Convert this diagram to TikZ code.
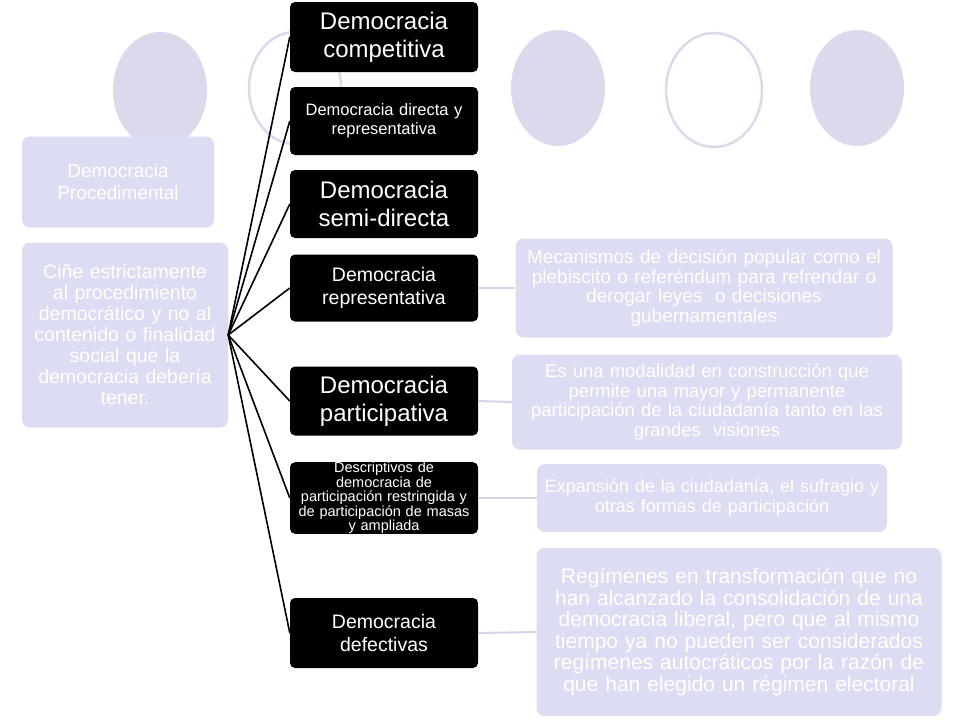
\documentclass[tikz,border=0pt]{standalone}
\usepackage{fontspec}
\setmainfont{Liberation Sans}
\newcommand{\fs}[2]{\fontsize{#1}{#2}\selectfont\hyphenpenalty=10000 }
\begin{document}
\begin{tikzpicture}[x=1pt,y=-1pt,
  lav/.style={fill=lavfill,draw=none,rounded corners=8pt,text=white,align=center,inner sep=0pt},
  blk/.style={fill=black,draw=none,rounded corners=5pt,text=white,align=center,inner sep=0pt,minimum width=188pt,text width=188pt},
  fan/.style={draw=black,line width=1.6pt},
  lnk/.style={draw=lavline,line width=2pt},
  circf/.style={fill=lavcirc,draw=none},
  circo/.style={draw=lavcirc,line width=2.5pt,fill=white}]
\definecolor{lavfill}{HTML}{DCDCF2}
\definecolor{lavcirc}{HTML}{DADAEC}
\definecolor{lavline}{HTML}{D4D4EC}
\useasboundingbox[fill=white] (0,0) rectangle (960,720);
% background circles
\fill[circf] (160,90) ellipse [x radius=47,y radius=58];
\draw[circo] (295,88) ellipse [x radius=46,y radius=56];
\fill[circf] (558,88) ellipse [x radius=47,y radius=58];
\draw[circo] (714,90) ellipse [x radius=48,y radius=57];
\fill[circf] (857,88) ellipse [x radius=47,y radius=58];
% left boxes
\node[lav,minimum width=192pt,minimum height=91pt,text width=190pt,font=\fs{19}{22}] (proc) at (118,182) {Democracia\\Procedimental};
\node[lav,minimum width=206pt,minimum height=185pt,text width=206pt,font=\fs{19.5}{21}] (cine) at (125,335) {Ciñe estrictamente\\al procedimiento\\democrático y no al\\contenido o finalidad\\social que la\\democracia debería\\tener.};
% black boxes
\node[blk,minimum height=70pt,font=\fs{24}{28}] (b1) at (384,37) {Democracia\\competitiva};
\node[blk,minimum height=68pt,font=\fs{16.5}{19}] (b2) at (384,121) {Democracia directa y\\representativa};
\node[blk,minimum height=68pt,font=\fs{24}{28}] (b3) at (384,204) {Democracia\\semi-directa};
\node[blk,minimum height=67pt,font=\fs{19.5}{23}] (b4) at (384,288) {Democracia\\representativa};
\node[blk,minimum height=69pt,font=\fs{24}{28}] (b5) at (384,401) {Democracia\\participativa};
\node[blk,minimum height=70pt,font=\fs{14.5}{14.5}] (b6) at (384,498) {Descriptivos de\\democracia de\\participación restringida y\\de participación de masas\\y ampliada};
\node[blk,minimum height=70pt,font=\fs{19.5}{23}] (b7) at (384,633) {Democracia\\defectivas};
% fan lines
\coordinate (hub) at (cine.east);
\foreach \b in {b1,b2,b3,b4,b5,b6,b7}{\draw[fan] (hub) -- (\b.west);}
% right boxes
\node[lav,minimum width=377pt,minimum height=99pt,text width=377pt,font=\fs{19}{19.5}] (ra) at (704,288) {Mecanismos de decisión popular como el\\plebiscito o referéndum para refrendar o\\derogar leyes \ o decisiones\\gubernamentales};
\node[lav,minimum width=390pt,minimum height=95pt,text width=390pt,font=\fs{18.5}{19.5}] (rb) at (707,402) {Es una modalidad en construcción que\\permite una mayor y permanente\\participación de la ciudadanía tanto en las\\grandes \ visiones};
\node[lav,minimum width=344pt,minimum height=68pt,text width=350pt,font=\fs{18}{20}] (rc) at (712,498) {Expansión de la ciudadanía, el sufragio y\\otras formas de participación};
\node[lav,minimum width=405pt,minimum height=168pt,text width=405pt,font=\fs{21}{21.5}] (rd) at (739,632) {Regímenes en transformación que no\\han alcanzado la consolidación de una\\democracia liberal, pero que al mismo\\tiempo ya no pueden ser considerados\\regímenes autocráticos por la razón de\\que han elegido un régimen electoral};
\draw[lnk] (b4.east) -- (ra.west);
\draw[lnk] (b5.east) -- (rb.west);
\draw[lnk] (b6.east) -- (rc.west);
\draw[lnk] (b7.east) -- (rd.west);
\end{tikzpicture}
\end{document}
